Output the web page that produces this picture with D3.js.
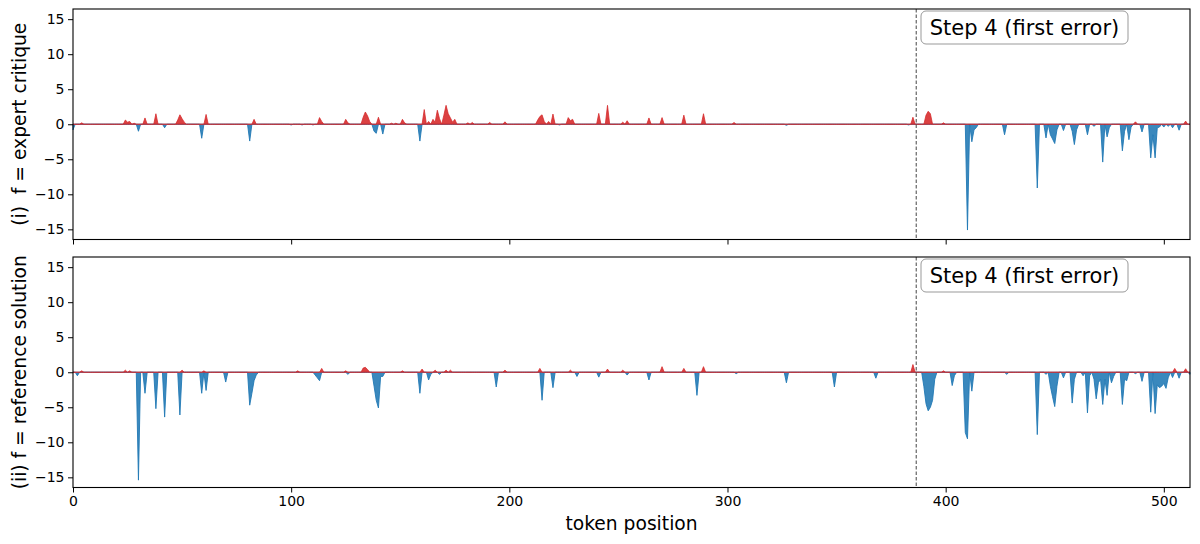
<!DOCTYPE html>
<html>
<head>
<meta charset="utf-8">
<script src="https://cdn.jsdelivr.net/npm/d3@7"></script>
<style>
  body { margin: 0; background: #fff; }
  text { font-family: "DejaVu Sans", sans-serif; }
</style>
</head>
<body>
<script>
//Token count and x ticks
var nTokens = 513;
var xTicks = [0, 100, 200, 300, 400, 500];
var yTicks = [-15, -10, -5, 0, 5, 10, 15];
var firstErrorToken = 386.5;
var boxLabel = "Step 4 (first error)";

//(i) f = expert critique : token positions and values (all other tokens are 0)
var critiqueTokens = [0, 4, 24, 25, 26, 28, 30, 33, 38, 42, 48, 49, 50, 51, 59, 61, 81, 83, 100, 105, 110,
    113, 114, 125, 126, 133, 134, 135, 136, 138, 139, 140, 142, 146, 148, 151, 152, 159, 161, 163,
    165, 166, 167, 168, 170, 171, 172, 173, 174, 175, 181, 183, 191, 198, 213, 214, 215, 216, 218,
    220, 223, 227, 228, 229, 241, 245, 252, 254, 264, 270, 280, 289, 303, 327, 383, 385, 391, 392,
    393, 399, 410, 412, 413, 414, 427, 442, 446, 448, 449, 450, 451, 454, 458, 459, 460, 465, 468,
    472, 474, 475, 481, 482, 484, 485, 487, 490, 494, 495, 496, 497, 498, 500, 502, 504, 507, 510];
var critiqueValues = [-0.8, 0.2, 0.6, 0.3, 0.4, 0.15, -1.0, 0.9, 1.5, -0.5, 0.6, 1.35, 0.8, 0.3, -2.0, 1.4, -2.4, 0.7, -0.1, -0.1, -0.1,
    0.95, 0.4, 0.7, 0.2, 1.0, 1.75, 1.2, 0.4, -1.0, -1.3, 1.0, -1.4, 0.15, 0.15, 0.7, 0.2, -2.4, 2.1, 0.4,
    0.7, 0.3, 2.0, 0.8, 1.3, 2.7, 1.5, 0.9, 0.3, 0.7, 0.2, 0.25, 0.25, 0.35, 0.6, 1.1, 1.35, 0.4, 0.4,
    1.45, -0.1, 0.95, 0.5, 0.7, 1.55, 2.7, 0.3, 0.5, 0.9, 0.95, 1.3, 1.5, 0.25, -0.15, -0.1, 1.0, 1.3, 1.85,
    1.5, 0.2, -15.1, -2.5, -0.8, -0.5, -1.5, -9.1, -1.95, -1.5, -2.1, -2.75, -0.8, -0.9, -1.0, -2.9, -0.8, -1.5, -0.3,
    -5.4, -1.8, -0.5, -3.8, -1.0, -2.2, -0.4, 0.35, -1.1, -4.8, -1.5, -4.8, -0.5, -0.4, -0.4, -0.3, -0.5, -0.85, 0.45];

//(ii) f = reference solution : token positions and values (all other tokens are 0)
var referenceTokens = [2, 4, 24, 26, 30, 33, 38, 42, 49, 50, 59, 60, 61, 70, 81, 82, 83, 84, 103, 111, 112,
    113, 114, 125, 126, 133, 134, 135, 138, 139, 140, 141, 142, 151, 159, 160, 163, 164, 166, 168,
    171, 173, 194, 198, 214, 215, 220, 228, 231, 241, 245, 252, 254, 264, 270, 280, 286, 289, 304,
    327, 349, 368, 385, 390, 391, 392, 393, 394, 395, 399, 403, 404, 409, 410, 412, 428, 442, 446,
    448, 449, 450, 451, 454, 458, 459, 463, 465, 466, 468, 469, 470, 471, 472, 473, 474, 476, 477,
    481, 482, 483, 487, 490, 494, 496, 497, 498, 499, 500, 501, 502, 504, 505, 507, 510, 512];
var referenceValues = [-0.5, 0.2, 0.3, 0.2, -15.4, -3.0, -5.2, -6.4, -6.1, 0.3, -3.0, 0.2, -2.6, -1.4, -4.7, -3.0, -1.2, -0.4, 0.2, -0.4, -0.8,
    -1.2, 0.55, 0.2, -0.3, 0.6, 0.7, 0.4, -2.0, -4.0, -5.1, -0.6, -0.6, 0.2, -3.0, 0.45, -1.1, -0.3, 0.3, -0.3,
    0.3, 0.3, -2.1, 0.3, 0.55, -4.0, -2.2, 0.3, -0.6, -0.7, 0.45, 0.3, -0.4, -1.1, 0.8, 0.55, -3.3, 0.8, -0.2,
    -1.5, -2.1, -0.85, 1.1, -2.0, -4.5, -5.5, -5.0, -4.0, -1.0, 0.2, -1.9, -0.5, -8.6, -9.5, -2.7, -0.3, -8.9, -0.3,
    -2.0, -3.5, -4.9, -2.0, -0.8, -4.4, -1.0, -0.5, -5.8, -0.5, -1.0, -3.8, -1.5, -1.0, -4.6, -1.0, -3.3, -1.5, -0.6,
    -4.6, -1.0, -1.2, -0.2, -1.3, -5.7, -5.9, -1.8, -2.2, -2.0, -1.6, -2.3, -0.8, -0.75, 0.55, -0.85, 0.5, -0.3];

//Panel labels
var panelLabels = ["(i)  f = expert critique", "(ii) f = reference solution"];

//Width and height
var w = 1200;
var h = 544;
var left = 73, right = 1190;
var panelTops = [9, 257];
var panelH = 230.5;

var svg = d3.select("body")
            .append("svg")
            .attr("width", w)
            .attr("height", h);

var x = d3.scaleLinear()
          .domain([0, nTokens - 1])
          .range([left, right]);

//Build a full series from the sparse token lists
function buildSeries(tokens, values) {
    var series = d3.range(nTokens).map((i) => { return { t: i, v: 0 }; });
    tokens.forEach((t, i) => { series[t].v = values[i]; });
    return series;
}

var panels = [
    buildSeries(critiqueTokens, critiqueValues),
    buildSeries(referenceTokens, referenceValues)
];

panels.forEach((series, k) => {
    var top = panelTops[k];
    var y = d3.scaleLinear()
              .domain([-16.45, 16.45])
              .range([top + panelH, top]);

    var g = svg.append("g");

    //Negative part (blue)
    var negArea = d3.area()
                    .x((d) => { return x(d.t); })
                    .y0(y(0))
                    .y1((d) => { return y(Math.min(d.v, 0)); });
    g.append("path")
     .datum(series)
     .attr("d", negArea)
     .attr("fill", "#1f77b4")
     .attr("fill-opacity", 0.88)
     .attr("stroke", "#1f77b4")
     .attr("stroke-opacity", 0.88)
     .attr("stroke-width", 1);

    //Positive part (red)
    var posArea = d3.area()
                    .x((d) => { return x(d.t); })
                    .y0(y(0))
                    .y1((d) => { return y(Math.max(d.v, 0)); });
    g.append("path")
     .datum(series)
     .attr("d", posArea)
     .attr("fill", "#d62728")
     .attr("fill-opacity", 0.88)
     .attr("stroke", "#d62728")
     .attr("stroke-opacity", 0.75)
     .attr("stroke-width", 1);

    //First error marker
    g.append("line")
     .attr("x1", x(firstErrorToken))
     .attr("x2", x(firstErrorToken))
     .attr("y1", top)
     .attr("y2", top + panelH)
     .attr("stroke", "#444")
     .attr("stroke-width", 1)
     .attr("stroke-dasharray", "3.5,2");

    //Axes
    var yAxis = d3.axisLeft(y)
                  .tickValues(yTicks)
                  .tickSize(5)
                  .tickPadding(3.5)
                  .tickFormat((d) => { return d < 0 ? "\u2212" + Math.abs(d) : d; });
    var ya = svg.append("g")
                .attr("transform", "translate(" + left + ",0)")
                .call(yAxis);

    var xAxis = d3.axisBottom(x)
                  .tickValues(xTicks)
                  .tickSize(5)
                  .tickPadding(4)
                  .tickFormat(k === 1 ? d3.format("d") : "");
    var xa = svg.append("g")
                .attr("transform", "translate(0," + (top + panelH) + ")")
                .call(xAxis);

    [ya, xa].forEach((a) => {
        a.select(".domain").remove();
        a.selectAll("line").attr("stroke", "#000").attr("stroke-width", 1);
        a.selectAll("text")
         .attr("font-family", "DejaVu Sans")
         .attr("font-size", "14px")
         .attr("fill", "#000");
    });

    //Frame
    svg.append("rect")
       .attr("x", left)
       .attr("y", top)
       .attr("width", right - left)
       .attr("height", panelH)
       .attr("fill", "none")
       .attr("stroke", "#000")
       .attr("stroke-width", 1.1);

    //Annotation box
    var bx = 921, by = top + 2, bw = 207, bh = 33;
    svg.append("rect")
       .attr("x", bx)
       .attr("y", by)
       .attr("width", bw)
       .attr("height", bh)
       .attr("rx", 5)
       .attr("fill", "#fff")
       .attr("fill-opacity", 0.85)
       .attr("stroke", "#999")
       .attr("stroke-width", 1);
    svg.append("text")
       .attr("x", bx + bw / 2)
       .attr("y", by + 24)
       .attr("text-anchor", "middle")
       .attr("font-size", "21px")
       .attr("fill", "#000")
       .text(boxLabel);

    //Y label
    svg.append("text")
       .attr("transform", "translate(26," + (top + panelH / 2) + ") rotate(-90)")
       .attr("text-anchor", "middle")
       .attr("font-size", "18.7px")
       .style("white-space", "pre")
       .attr("fill", "#000")
       .text(panelLabels[k]);
});

//X label
svg.append("text")
   .attr("x", (left + right) / 2)
   .attr("y", 530)
   .attr("text-anchor", "middle")
   .attr("font-size", "18.7px")
   .attr("fill", "#000")
   .text("token position");
</script>
</body>
</html>
